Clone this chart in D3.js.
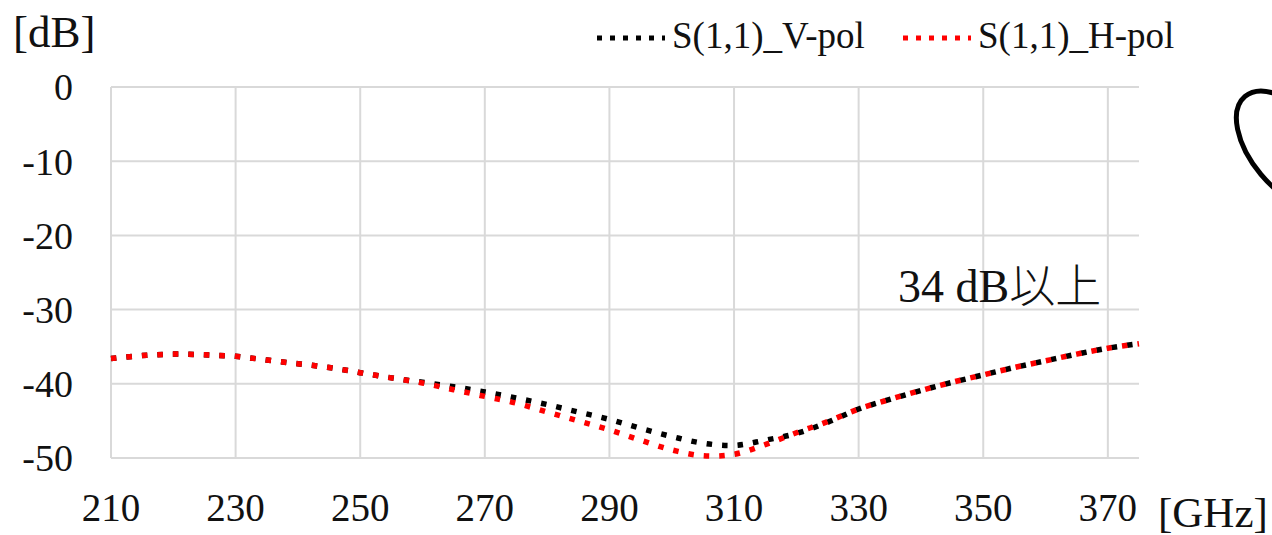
<!DOCTYPE html>
<html>
<head>
<meta charset="utf-8">
<script src="https://cdn.jsdelivr.net/npm/d3@7"></script>
<style>
  body { margin: 0; background: #fff; }
  svg text { font-family: "Liberation Serif", "Times New Roman", serif; fill: #111; }
</style>
</head>
<body>
<svg id="chart" width="1272" height="535"></svg>
<script>
// frequency points [GHz]
var freq = [210,215,220,225,230,235,240,245,250,255,260,265,270,275,280,285,290,295,300,305,310,315,320,325,330,335,340,345,350,355,360,365,370,375];
// S(1,1) V-pol [dB]
var vPol = [-36.6,-36.2,-36.0,-36.1,-36.3,-36.8,-37.3,-37.8,-38.5,-39.2,-39.8,-40.4,-41.1,-41.9,-42.8,-43.8,-44.8,-46.0,-47.1,-48.0,-48.3,-47.6,-46.7,-45.2,-43.4,-42.1,-40.9,-39.8,-38.8,-37.8,-36.9,-36.0,-35.2,-34.6];
// S(1,1) H-pol [dB]
var hPol = [-36.6,-36.2,-36.0,-36.1,-36.3,-36.8,-37.3,-37.8,-38.5,-39.2,-39.9,-40.8,-41.7,-42.6,-43.8,-45.0,-46.2,-47.6,-48.9,-49.7,-49.5,-48.2,-46.6,-45.1,-43.4,-42.1,-40.9,-39.8,-38.8,-37.8,-36.9,-36.0,-35.2,-34.6];

var seriesNames = ["S(1,1)_V-pol", "S(1,1)_H-pol"];
var seriesColors = ["#000000", "#ff0000"];
var xTicks = [210,230,250,270,290,310,330,350,370];
var yTicks = [0,-10,-20,-30,-40,-50];

var svg = d3.select("#chart");

var x = d3.scaleLinear().domain([210, 375]).range([111, 1139]);
var y = d3.scaleLinear().domain([-50, 0]).range([458, 87]);

// gridlines
svg.append("g").selectAll("line.h")
    .data(yTicks).enter().append("line")
    .attr("x1", x(210)).attr("x2", x(375))
    .attr("y1", function(d) { return y(d); })
    .attr("y2", function(d) { return y(d); })
    .attr("stroke", "#d9d9d9").attr("stroke-width", 2);

svg.append("g").selectAll("line.v")
    .data(xTicks).enter().append("line")
    .attr("x1", function(d) { return x(d); })
    .attr("x2", function(d) { return x(d); })
    .attr("y1", y(0)).attr("y2", y(-50))
    .attr("stroke", "#d9d9d9").attr("stroke-width", 2);

// tick labels
svg.append("g").selectAll("text")
    .data(yTicks).enter().append("text")
    .attr("x", 73)
    .attr("y", function(d) { return y(d); })
    .attr("dy", "0.35em")
    .attr("text-anchor", "end")
    .style("font-size", "38px")
    .text(function(d) { return d; });

svg.append("g").selectAll("text")
    .data(xTicks).enter().append("text")
    .attr("x", function(d) { return x(d); })
    .attr("y", 521)
    .attr("text-anchor", "middle")
    .style("font-size", "39px")
    .text(function(d) { return d; });

// curves
var line = d3.line()
    .x(function(d) { return x(d[0]); })
    .y(function(d) { return y(d[1]); })
    .curve(d3.curveCatmullRom);

[vPol, hPol].forEach(function(vals, i) {
  svg.append("path")
    .datum(freq.map(function(f, j) { return [f, vals[j]]; }))
    .attr("d", line)
    .attr("fill", "none")
    .attr("stroke", seriesColors[i])
    .attr("stroke-width", 5.5)
    .attr("stroke-dasharray", "5.5,10");
});

// legend
var legendX = [597, 903];
seriesNames.forEach(function(name, i) {
  svg.append("line")
    .attr("x1", legendX[i]).attr("x2", legendX[i] + 68)
    .attr("y1", 38).attr("y2", 38)
    .attr("stroke", seriesColors[i])
    .attr("stroke-width", 5)
    .attr("stroke-dasharray", "5,8");
  svg.append("text")
    .attr("x", legendX[i] + 75)
    .attr("y", 48)
    .style("font-size", "37px")
    .text(name);
});

// axis units and annotation
svg.append("text").attr("x", 13).attr("y", 47).style("font-size", "45px").text("[dB]");
svg.append("text").attr("x", 1158).attr("y", 527).style("font-size", "43px").text("[GHz]");

var note = svg.append("text").attr("x", 898).attr("y", 302).style("font-size", "46px");
note.append("tspan").text("34 dB");
note.append("tspan").style("font-family", "'Noto Sans CJK JP'").style("font-weight", 300).text("以上");

// hand-drawn ellipse at the right edge
svg.append("ellipse")
    .attr("cx", 0).attr("cy", 0).attr("rx", 38).attr("ry", 70)
    .attr("transform", "translate(1290,150) rotate(-40)")
    .attr("fill", "none")
    .attr("stroke", "#000")
    .attr("stroke-width", 5);
</script>
</body>
</html>
